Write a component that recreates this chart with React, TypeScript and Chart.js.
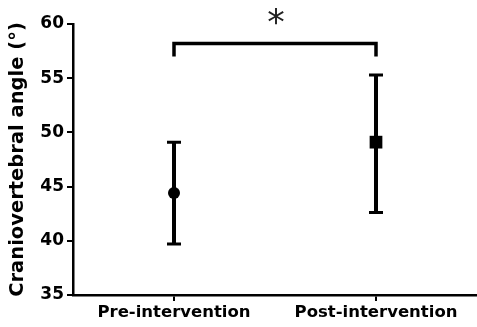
import React, { useEffect, useRef } from "react";
import { Chart, registerables } from "chart.js";

Chart.register(...registerables);

const categories = ["Pre-intervention", "Post-intervention"];
const means = [44.4, 49.1];
const lowerBounds = [39.7, 42.6];
const upperBounds = [49.1, 55.3];
const markerStyles = ["circle", "rect"];
const markerRadii = [6, 9];
const yTickValues = [35, 40, 45, 50, 55, 60];
const bracketTop = 58.2;
const bracketEnd = 57.0;
const starLevel = 60.5;
const starText = "*";
const yTitle = "Craniovertebral angle (°)";

const FONT = "'DejaVu Sans', 'Noto Sans', sans-serif";

const errorBarPlugin = {
  id: "errorBars",
  beforeDatasetsDraw(chart: any) {
    const { ctx, scales } = chart;
    const xs = scales.x;
    const ys = scales.y;
    ctx.save();
    ctx.strokeStyle = "#000";
    for (let i = 0; i < means.length; i++) {
      const x = xs.getPixelForValue(i);
      const yl = ys.getPixelForValue(lowerBounds[i]);
      const yh = ys.getPixelForValue(upperBounds[i]);
      ctx.lineWidth = 4;
      ctx.beginPath();
      ctx.moveTo(x, yl);
      ctx.lineTo(x, yh);
      ctx.stroke();
      ctx.lineWidth = 3;
      ctx.beginPath();
      ctx.moveTo(x - 7, yl);
      ctx.lineTo(x + 7, yl);
      ctx.moveTo(x - 7, yh);
      ctx.lineTo(x + 7, yh);
      ctx.stroke();
    }
    ctx.restore();
  },
};

const bracketPlugin = {
  id: "bracket",
  afterDraw(chart: any) {
    const { ctx, scales } = chart;
    const xs = scales.x;
    const ys = scales.y;
    const x0 = xs.getPixelForValue(0);
    const x1 = xs.getPixelForValue(1);
    const yt = ys.getPixelForValue(bracketTop);
    const ye = ys.getPixelForValue(bracketEnd);
    ctx.save();
    ctx.strokeStyle = "#000";
    ctx.lineWidth = 3.5;
    ctx.lineJoin = "miter";
    ctx.beginPath();
    ctx.moveTo(x0, ye);
    ctx.lineTo(x0, yt);
    ctx.lineTo(x1, yt);
    ctx.lineTo(x1, ye);
    ctx.stroke();
    ctx.fillStyle = "#222";
    ctx.font = `35px ${FONT}`;
    ctx.textAlign = "center";
    ctx.textBaseline = "middle";
    const ys2 = ys.getPixelForValue(starLevel);
    ctx.fillText(starText, (x0 + x1) / 2 + 1, ys2 + 6);
    ctx.restore();
  },
};

export default function App() {
  const ref = useRef<HTMLCanvasElement | null>(null);
  useEffect(() => {
    if (!ref.current) return;
    const chart = new Chart(ref.current, {
      type: "scatter",
      data: {
        datasets: [
          {
            data: means.map((v, i) => ({ x: i, y: v })),
            pointStyle: markerStyles as any,
            pointRadius: markerRadii,
            pointBackgroundColor: "#000",
            pointBorderColor: "#000",
            pointBorderWidth: 0,
            showLine: false,
          },
        ],
      },
      options: {
        animation: false,
        responsive: false,
        layout: { autoPadding: false, padding: { top: 24, right: 0, left: 0, bottom: 0 } },
        plugins: {
          legend: { display: false },
          tooltip: { enabled: false },
        },
        scales: {
          x: {
            type: "linear",
            min: -0.5,
            max: 1.5,
            afterBuildTicks: (s: any) => {
              s.ticks = categories.map((_, i) => ({ value: i }));
            },
            afterFit: (s: any) => {
              s.height = 32;
              s.paddingLeft = 0;
              s.paddingRight = 0;
            },
            ticks: {
              color: "#000",
              font: { family: FONT, size: 16.5, weight: "bold" },
              padding: 2,
              maxRotation: 0,
              autoSkip: false,
              callback: (v: any) => categories[v] ?? "",
            },
            grid: {
              display: true,
              drawOnChartArea: false,
              drawTicks: true,
              tickLength: 6,
              color: "#000",
              lineWidth: 2,
            },
            border: { display: true, color: "#000", width: 2.5 },
          },
          y: {
            min: 35,
            max: 60,
            afterBuildTicks: (s: any) => {
              s.ticks = yTickValues.map((v) => ({ value: v }));
            },
            afterFit: (s: any) => {
              s.width = 73;
              s.paddingTop = 0;
              s.paddingBottom = 0;
            },
            ticks: {
              color: "#000",
              font: { family: FONT, size: 17, weight: "bold" },
              padding: 3,
            },
            grid: {
              display: true,
              drawOnChartArea: false,
              drawTicks: true,
              tickLength: 6,
              color: "#000",
              lineWidth: 2,
            },
            border: { display: true, color: "#000", width: 2.5 },
            title: {
              display: true,
              text: yTitle,
              color: "#000",
              font: { family: FONT, size: 19.5, weight: "bold" },
              padding: { top: 6, bottom: 0 },
            },
          },
        },
      },
      plugins: [errorBarPlugin, bracketPlugin],
    });
    return () => chart.destroy();
  }, []);
  return (
    <div style={{ position: "fixed", left: 0, top: 0, width: 477, height: 327, background: "#fff" }}>
      <canvas ref={ref} width={477} height={327} />
    </div>
  );
}
